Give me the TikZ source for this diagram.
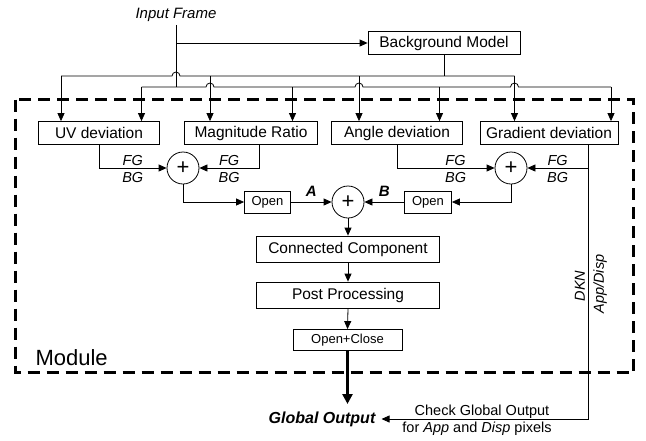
\documentclass[tikz,border=0pt]{standalone}
\usepackage{fontspec}
\setmainfont{Liberation Sans}
\usetikzlibrary{arrows.meta}

\begin{document}
\begin{tikzpicture}[x=1pt,y=-1pt,
		box/.style={draw,line width=0.8pt,inner sep=0pt,minimum height=23pt,font=\fontsize{15.5}{18}\selectfont},
		smallbox/.style={draw,line width=0.8pt,inner sep=0pt,minimum height=22pt,font=\fontsize{13}{15}\selectfont},
		sum/.style={draw,circle,line width=0.8pt,minimum size=32pt,inner sep=0pt,font=\fontsize{22}{22}\selectfont},
		lbl/.style={font=\fontsize{14.5}{16}\selectfont\itshape,inner sep=1pt},
		tag/.style={font=\fontsize{15}{18}\selectfont\bfseries\itshape,inner sep=1pt},
		arr/.style={-{Triangle[length=8pt,width=7pt]},line width=0.8pt}]
	\useasboundingbox (0,0) rectangle (646,440);

	% module frame
	\draw[line width=2.8pt,dash pattern=on 12pt off 7pt] (15.5,99.5) rectangle (633.5,372.5);
	\node[anchor=west,font=\fontsize{22}{24}\selectfont] (modname) at (32,358) {Module};

	\node[lbl,font=\fontsize{15}{17}\selectfont\itshape,inner sep=3pt] (input) at (176,15) {Input Frame};
	\node[box,minimum width=152pt] (bm) at (444,43) {Background Model};

	\node[box,minimum width=121pt] (uv) at (99,133) {UV deviation};
	\node[box,minimum width=133pt] (mag) at (251,133) {Magnitude Ratio};
	\node[box,minimum width=131pt] (ang) at (397,133) {Angle deviation};
	\node[box,minimum width=138pt] (grad) at (549,133) {Gradient deviation};

	\node[sum] (sumL) at (183,168) {+};
	\node[sum] (sumR) at (511,168) {+};
	\node[sum] (sumC) at (348,202) {+};
	\node[smallbox,minimum width=46pt] (openA) at (267.5,202) {Open};
	\node[smallbox,minimum width=47pt] (openB) at (428,202) {Open};

	\node[box,minimum width=183pt,minimum height=26pt] (cc) at (348,249) {Connected Component};
	\node[box,minimum width=183pt,minimum height=26pt] (pp) at (348,295) {Post Processing};
	\node[smallbox,minimum width=109pt,minimum height=21pt] (oc) at (347.5,340) {Open+Close};

	\node[font=\fontsize{16}{18}\selectfont\bfseries\itshape,inner xsep=6pt] (gout) at (322,419) {Global Output};
	\node[font=\fontsize{14.5}{17}\selectfont] (chk1) at (482,411.5) {Check Global Output};
	\node[font=\fontsize{14.5}{17}\selectfont] (chk2) at (477,428.5) {for \textit{App} and \textit{Disp} pixels};

	% two feeding lines
	\coordinate (busU) at (0,76);
	\coordinate (busL) at (0,87);
	\draw[line width=0.8pt] (input.south) -- (input.south |- busL);
	\draw[arr] (input.south |- bm.west) -- (bm.west);
	\draw[line width=0.8pt] (bm.south) -- (bm.south |- busU);
	\draw[line width=0.8pt] (61,76) -- (172,76) arc[start angle=180,end angle=0,radius=4pt] -- (514.5,76);
	\draw[line width=0.8pt] (141.5,87) -- (206,87) arc[start angle=180,end angle=0,radius=4pt]
		-- (355,87) arc[start angle=180,end angle=0,radius=4pt]
		-- (510.5,87) arc[start angle=180,end angle=0,radius=4pt] -- (611,87);
	\foreach \x/\b in {61/uv,210/mag,359/ang,514.5/grad}{
		\coordinate (t) at (\x,76);
		\draw[arr] (t) -- (t |- \b.north);
	}
	\foreach \x/\b in {141.5/uv,292.5/mag,439.5/ang,611/grad}{
		\coordinate (t) at (\x,87);
		\draw[arr] (t) -- (t |- \b.north);
	}

	% into the sums
	\draw[arr] (uv.south) |- node[lbl,pos=0.75,above=1pt] (fg1) {FG} node[lbl,pos=0.75,below=3pt] (bg1) {BG} (sumL);
	\draw[arr] ([xshift=8pt]mag.south) |- node[lbl,pos=0.75,above=1pt] (fg2) {FG} node[lbl,pos=0.75,below=3pt] (bg2) {BG} (sumL);
	\draw[arr] (ang.south) |- node[lbl,pos=0.8,above=1pt] (fg3) {FG} node[lbl,pos=0.8,below=3pt] (bg3) {BG} (sumR);
	\draw[arr] ([xshift=39pt]grad.south |- sumR) -- node[lbl,above=1pt] (fg4) {FG} node[lbl,below=3pt] (bg4) {BG} (sumR);
	\draw[arr] ([xshift=39pt]grad.south) |- (gout.east);
	\node[lbl,rotate=90] (dkn) at (580,286) {DKN};
	\node[lbl,rotate=90] (appdisp) at (600,284) {App/Disp};

	\draw[arr] (sumL.south) |- (openA.west);
	\draw[arr] (sumR.south) |- (openB.east);
	\draw[arr] (openA.east) -- node[tag,above=4pt] (tagA) {A} (sumC.west);
	\draw[arr] (openB.west) -- node[tag,above=4pt] (tagB) {B} (sumC.east);
	\draw[arr] (sumC.south) -- (cc.north);
	\draw[arr] (cc.south) -- (pp.north);
	\draw[arr] (pp.south) -- (oc.north);
	\coordinate (outTip) at (347.5,404);
	\draw[line width=2.5pt,-{Triangle[length=10pt,width=10pt]}] (oc.south) -- (outTip);
\end{tikzpicture}
\end{document}
